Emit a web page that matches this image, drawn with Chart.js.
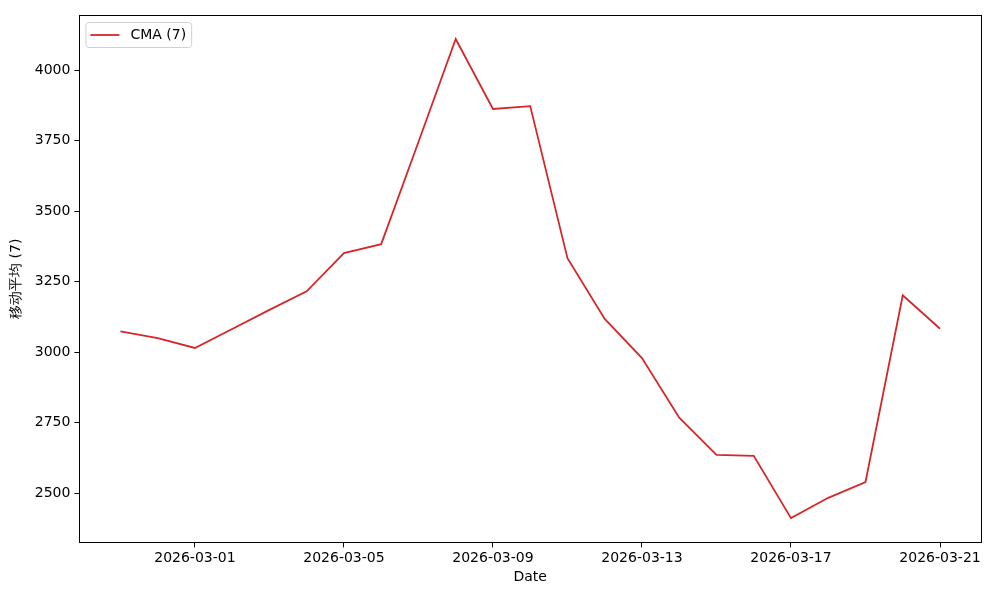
<!DOCTYPE html>
<html>
<head>
<meta charset="utf-8">
<script src="https://cdn.jsdelivr.net/npm/chart.js@4"></script>
<style>
  html, body { margin: 0; padding: 0; background: #fff; }
  #wrap { width: 1000px; height: 600px; }
</style>
</head>
<body>
<div id="wrap"><canvas id="chart" width="1000" height="600"></canvas></div>
<script>
// days counted from 2026-03-01
const dayOffsets = [-2, -1, 0, 1, 2, 3, 4, 5, 6, 7, 8, 9, 10, 11, 12, 13, 14, 15, 16, 17, 18, 19, 20];
const cmaValues = [3074, 3050, 3015, 3082, 3150, 3216, 3351, 3383, 3745, 4110, 3862, 3872, 3333, 3118, 2979, 2768, 2636, 2633, 2412, 2484, 2540, 3202, 3083];
const xTickDays = [0, 4, 8, 12, 16, 20];
const yTicks = [2500, 2750, 3000, 3250, 3500, 3750, 4000];
const seriesLabel = "CMA (7)";
const yTitle = "移动平均 (7)";

const base = new Date(Date.UTC(2026, 2, 1));
function dayLabel(d) {
  const dt = new Date(base.getTime() + d * 86400000);
  return dt.toISOString().slice(0, 10);
}

const font = { family: "DejaVu Sans", size: 14 };

const frame = {
  id: "frame",
  afterDraw(chart) {
    const { ctx, chartArea: a } = chart;
    ctx.save();
    ctx.strokeStyle = "#000";
    ctx.lineWidth = 1;
    ctx.strokeRect(Math.round(a.left) + 0.5, Math.round(a.top) + 0.5,
      Math.round(a.right - a.left), Math.round(a.bottom - a.top));

    // legend box, top-left inside the axes
    const ds = chart.data.datasets[0];
    ctx.font = "14px DejaVu Sans";
    const tw = ctx.measureText(ds.label).width;
    const bx = a.left + 6, by = a.top + 7, bw = tw + 50, bh = 25;
    ctx.fillStyle = "rgba(255,255,255,0.8)";
    ctx.strokeStyle = "#d0d0d0";
    ctx.beginPath();
    ctx.roundRect(bx + 0.5, by + 0.5, bw, bh, 3);
    ctx.fill();
    ctx.stroke();
    ctx.strokeStyle = ds.borderColor;
    ctx.lineWidth = 1.8;
    ctx.beginPath();
    ctx.moveTo(bx + 5, by + 13);
    ctx.lineTo(bx + 34, by + 13);
    ctx.stroke();
    ctx.fillStyle = "#000";
    ctx.textBaseline = "middle";
    ctx.fillText(ds.label, bx + 45, by + 13);
    ctx.restore();
  }
};

new Chart(document.getElementById("chart"), {
  type: "line",
  data: {
    datasets: [
      {
        label: seriesLabel,
        data: dayOffsets.map((d, i) => ({ x: d, y: cmaValues[i] })),
        borderColor: "#d62728",
        borderWidth: 1.8,
        pointRadius: 0,
        tension: 0,
        fill: false
      }
    ]
  },
  plugins: [frame],
  options: {
    responsive: false,
    animation: false,
    layout: { padding: { left: 2, right: 19, top: 15, bottom: 14 } },
    plugins: {
      legend: { display: false },
      tooltip: { enabled: false }
    },
    scales: {
      x: {
        type: "linear",
        min: -3.1,
        max: 21.1,
        afterBuildTicks: axis => { axis.ticks = xTickDays.map(v => ({ value: v })); },
        ticks: {
          color: "#000",
          font: font,
          maxRotation: 0,
          autoSkip: false,
          padding: 2.5,
          callback: v => dayLabel(v)
        },
        grid: { drawOnChartArea: false, drawTicks: true, tickLength: 5, color: "#000" },
        border: { display: false },
        title: { display: true, text: "Date", color: "#000", font: font, padding: { top: 0, bottom: 0 } }
      },
      y: {
        min: 2326,
        max: 4195,
        afterBuildTicks: axis => { axis.ticks = yTicks.map(v => ({ value: v })); },
        ticks: { color: "#000", font: font, padding: 4, callback: v => String(v) },
        grid: { drawOnChartArea: false, drawTicks: true, tickLength: 5, color: "#000" },
        border: { display: false },
        title: { display: true, text: yTitle, color: "#000", font: font, padding: { top: 6, bottom: 6 } }
      }
    }
  }
});
</script>
</body>
</html>
